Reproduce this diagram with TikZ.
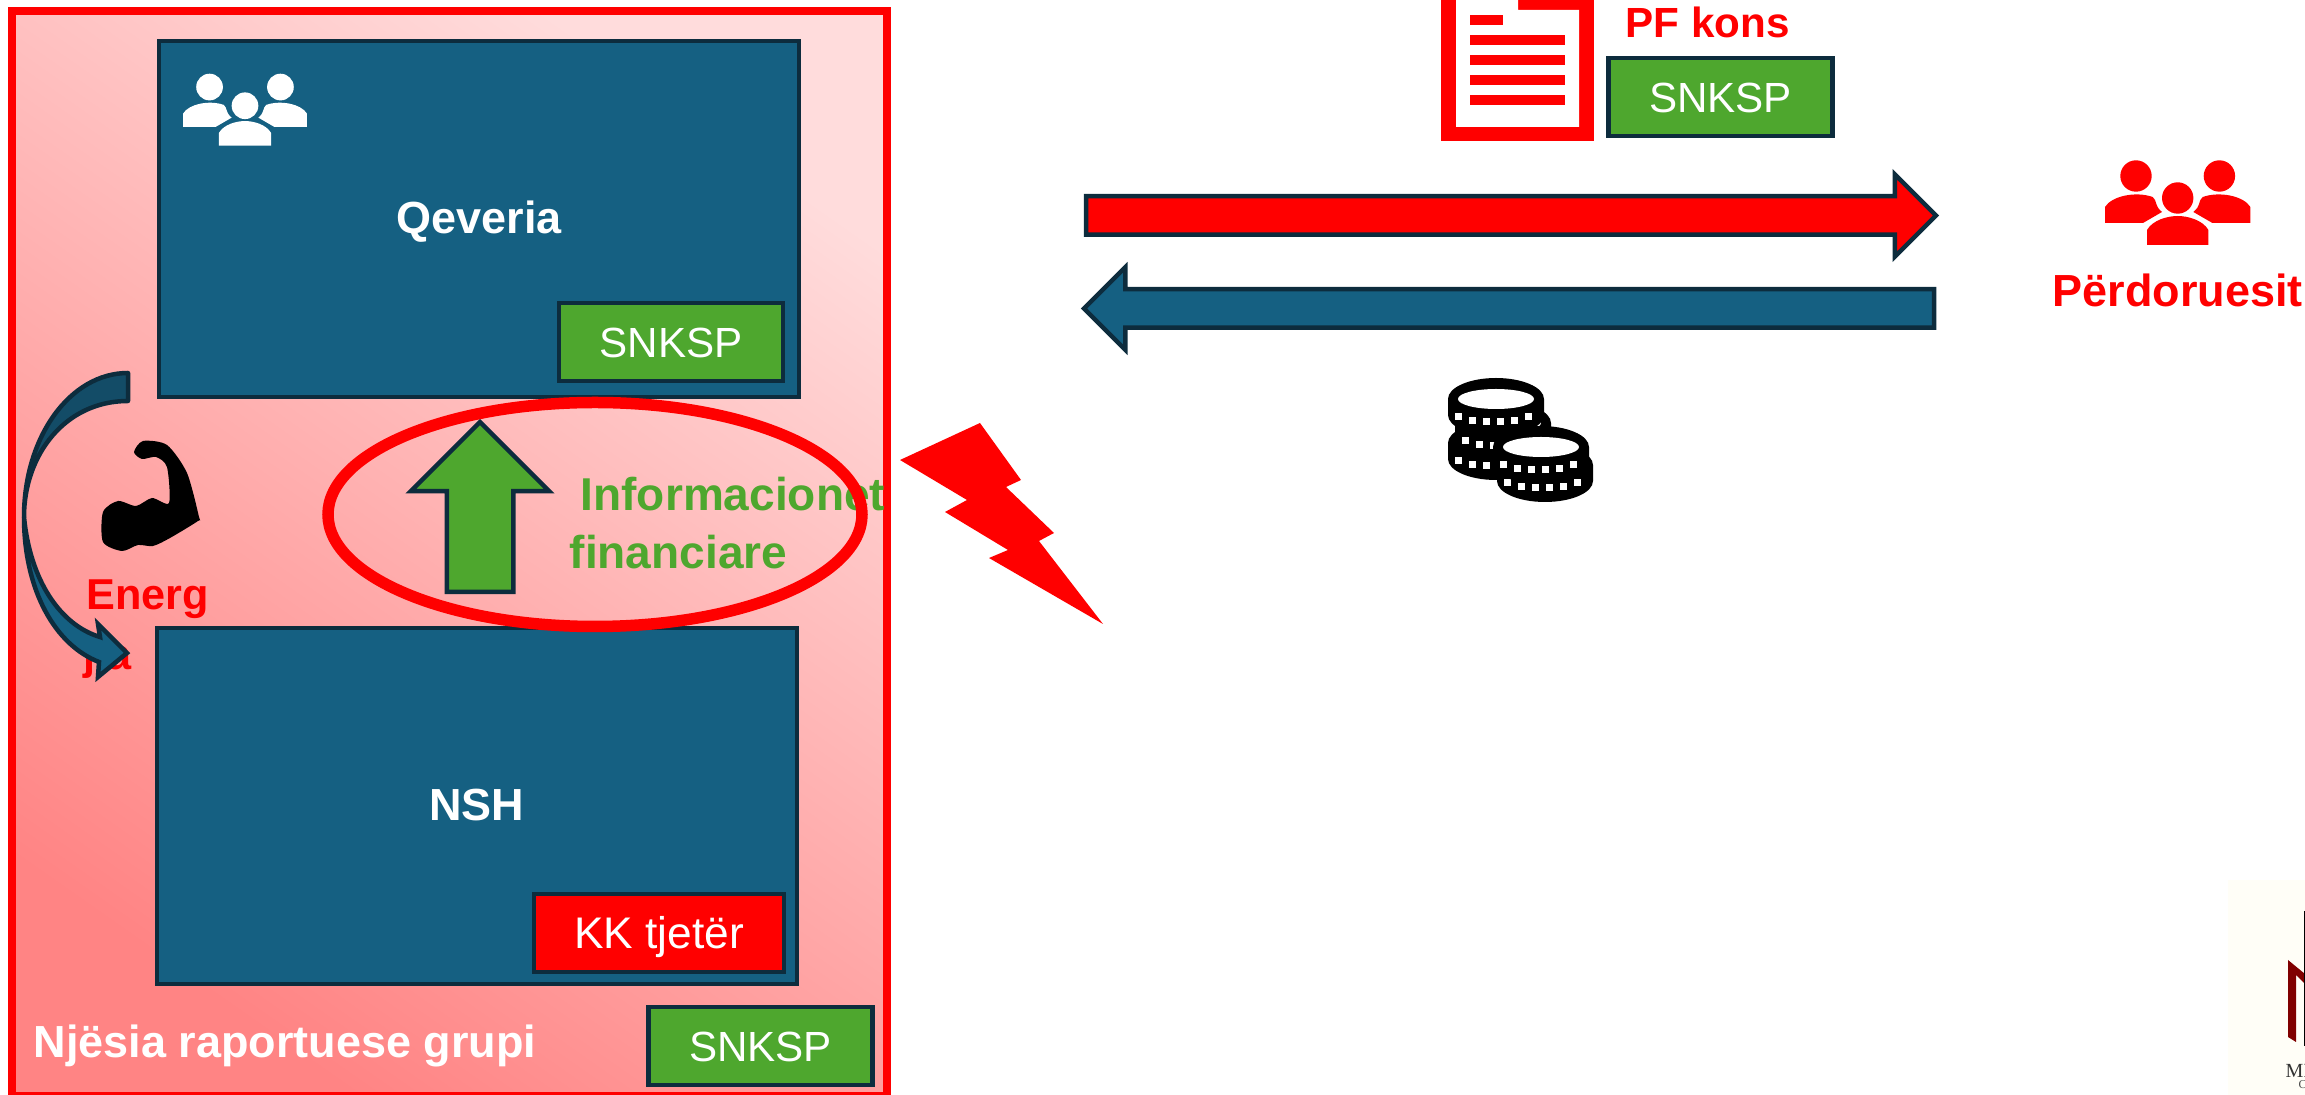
\documentclass[tikz,border=0pt]{standalone}
\usepackage{fontspec}
\setmainfont{Liberation Sans}
\newfontfamily\logofont{Liberation Serif}
\usetikzlibrary{arrows.meta}
\usetikzlibrary{positioning}
\usetikzlibrary{shapes.geometric}
\usetikzlibrary{shapes.arrows}
\definecolor{boxblue}{HTML}{156082}
\definecolor{backblue}{HTML}{134C67}
\definecolor{edgeblue}{HTML}{0D2C3D}
\definecolor{tagreen}{HTML}{4EA72E}
\definecolor{logored}{HTML}{800000}
\definecolor{logopaper}{HTML}{FFFEF7}
\definecolor{pinklight}{HTML}{FFDCDC}
\definecolor{pinkdark}{HTML}{FF8484}
\tikzset{
  people/.pic={
    \fill[pic actions] (-.417,.27) circle (.157);
    \fill[pic actions] (.417,.27) circle (.157);
    \fill[pic actions] (0,.05) circle (.157);
    \fill[pic actions] (-.727,-.20) -- (-.727,-.04) .. controls (-.66,.07) and (-.42,.12) .. (-.25,.06)
      -- (-.227,.03) .. controls (-.20,-.05) .. (-.157,-.09) -- (-.347,-.20) -- cycle;
    \fill[pic actions] (.727,-.20) -- (.727,-.04) .. controls (.66,.07) and (.42,.12) .. (.25,.06)
      -- (.227,.03) .. controls (.20,-.05) .. (.157,-.09) -- (.347,-.20) -- cycle;
    \fill[pic actions] (-.307,-.42) -- (-.307,-.27) .. controls (-.25,-.17) and (-.1,-.13) .. (0,-.13)
      .. controls (.1,-.13) and (.25,-.17) .. (.307,-.27) -- (.307,-.42) -- cycle;
  },
  coin/.pic={
    \fill[black] (-.48,0) arc (180:0:.48 and .21) -- (.48,-.16) arc (0:-180:.48 and .21) -- cycle;
    \fill[white] (0,0) ellipse (.38 and .10);
    \foreach \tickx/\ticky in {-.38/-.14,-.24/-.18,-.10/-.19,.04/-.19,.18/-.18,.32/-.14}
      \fill[white] (\tickx-.035,\ticky) rectangle (\tickx+.035,\ticky-.075);
  }
}
\begin{document}
\begin{tikzpicture}
    [unit/.style={rectangle,draw=edgeblue,fill=boxblue,line width=.45mm,
      inner sep=0pt,outer sep=0pt,text=white,font=\fontsize{12.8}{15}\selectfont\bfseries},
    tag/.style={rectangle,draw=edgeblue,fill=tagreen,line width=.45mm,
      inner sep=0pt,outer sep=0pt,minimum width=2.24cm,minimum height=.78cm,
      text=white,text height=8.6pt,text depth=0pt,font=\fontsize{12}{14}\selectfont},
    flow/.style={single arrow,draw=edgeblue,line width=.45mm,outer sep=0pt,
      single arrow tip angle=90,single arrow head indent=0pt},
    heading/.style={anchor=base west,inner sep=0pt,font=\fontsize{12.8}{15}\selectfont\bfseries}]

    \useasboundingbox (0,0) rectangle (23.05,-10.95);

    % reporting group
    \node (group) at (4.495,-5.535) [rectangle,draw=red,line width=.8mm,inner sep=0pt,
      minimum width=8.75cm,minimum height=10.85cm,
      top color=pinklight,bottom color=pinkdark,shading angle=-35] {};

    \node (qeveria) at (4.79,-2.19) [unit,minimum width=6.40cm,minimum height=3.56cm] {};
    \node (qeveria text) at (4.79,-2.34) [unit,draw=none,fill=none,anchor=base] {Qeveria};
    \node (qeveria tag) at (6.71,-3.42) [tag] {SNKSP};
    \pic (qeveria people) [fill=white,scale=.85] at (2.45,-1.10) {people};

    \node (nsh) at (4.77,-8.06) [unit,minimum width=6.40cm,minimum height=3.56cm] {};
    \node (nsh text) at (4.77,-8.21) [unit,draw=none,fill=none,anchor=base] {NSH};
    \node (nsh tag) at (6.59,-9.33) [tag,fill=red,minimum width=2.50cm,
      font=\fontsize{12.6}{14}\selectfont] {KK tjetër};

    \node (group text) at (.33,-10.58) [heading,text=white] {Njësia raportuese grupi};
    \node (group tag) at (7.605,-10.46) [tag] {SNKSP};

    % muscle and its arrow
    \fill[black] plot[smooth cycle,tension=.45] coordinates {(1.43,-4.41) (1.67,-4.45) (1.87,-4.73)
      (1.99,-5.17) (1.98,-5.21) (1.70,-5.38) (1.53,-5.46) (1.38,-5.45) (1.22,-5.51) (1.03,-5.42)
      (1.03,-5.12) (1.18,-5.01) (1.36,-5.06) (1.52,-4.98) (1.69,-5.03) (1.67,-4.67) (1.56,-4.57)
      (1.42,-4.59) (1.34,-4.52)};
    \node (energy top) at (.86,-6.10) [heading,text=red,font=\fontsize{12.3}{15}\selectfont\bfseries] {Energ};
    \node (energy bottom) at (.83,-6.70) [heading,text=red,font=\fontsize{12.3}{15}\selectfont\bfseries] {jia};

    \coordinate (bend start) at (1.28,-3.73);
    \coordinate (bend inner) at (1.28,-4.01);
    \coordinate (bend mid) at (.24,-5.17);
    \coordinate (bend neck) at (1.00,-6.37);
    \coordinate (bend outer) at (.99,-6.62);
    \filldraw[draw=edgeblue,fill=backblue,line width=.45mm,line join=round]
      (bend start) .. controls (.70,-3.73) and (.24,-4.37) .. (bend mid)
      .. controls (.24,-4.55) and (.65,-4.01) .. (bend inner) -- cycle;
    \filldraw[draw=edgeblue,fill=boxblue,line width=.45mm]
      (bend mid) .. controls (.24,-5.90) and (.55,-6.45) .. (bend outer)
      -- (.98,-6.77) -- (1.27,-6.53) -- (.98,-6.24) -- (bend neck)
      .. controls (.60,-6.25) and (.30,-5.80) .. (bend mid) -- cycle;

    % financial information
    \node (info top) at (5.80,-5.11) [heading,text=tagreen,font=\fontsize{13.1}{15}\selectfont\bfseries] {Informacionet};
    \node (info bottom) at (5.69,-5.69) [heading,text=tagreen,font=\fontsize{13.1}{15}\selectfont\bfseries] {financiare};
    \node (info arrow) at (4.80,-5.92) [flow,fill=tagreen,anchor=tail,shape border rotate=90,
      inner sep=.31cm,minimum height=1.70cm,single arrow head extend=.36cm] {};
    \node (info ring) at (5.95,-5.145) [ellipse,draw=red,line width=1.15mm,inner sep=0pt,
      minimum width=5.34cm,minimum height=2.24cm] {};

    % lightning
    \fill[red] (9.00,-4.60) -- (9.80,-4.23) -- (10.21,-4.80) -- (10.06,-4.87) -- (10.54,-5.33)
      -- (10.39,-5.41) -- (11.03,-6.24) -- (9.89,-5.58) -- (10.08,-5.50) -- (9.45,-5.12)
      -- (9.67,-5.00) -- cycle;

    % report
    \fill[red] (14.41,.1) rectangle (15.94,-1.41);
    \fill[white] (14.56,.1) -- (15.18,.1) -- (15.18,-.10) -- (15.79,-.10) -- (15.79,-1.27)
      -- (14.56,-1.27) -- cycle;
    \fill[red] (14.70,-.15) rectangle (15.03,-.25);
    \foreach \liney in {-.35,-.55,-.75,-.95}
      \fill[red] (14.70,\liney) rectangle (15.65,\liney-.10);
    \node (report text) at (16.25,-.38) [heading,text=red,font=\fontsize{12}{14}\selectfont\bfseries] {PF kons};
    \node (report tag) at (17.205,-.97) [tag] {SNKSP};

    % flows to and from users
    \node (flow report) at (10.86,-2.155) [flow,fill=red,anchor=tail,
      inner sep=.17cm,minimum height=8.50cm,single arrow head extend=.22cm] {};
    \node (flow money) at (19.34,-3.085) [flow,fill=boxblue,anchor=tail,shape border rotate=180,
      inner sep=.17cm,minimum height=8.50cm,single arrow head extend=.22cm] {};

    \pic (users people) [fill=red] at (21.777,-2.03) {people};
    \node (users text) at (20.52,-3.07) [heading,text=red] {Përdoruesit};

    % coins
    \pic (coin a) at (14.96,-4.43) {coin};
    \pic (coin b) at (15.03,-4.23) {coin};
    \pic (coin c) at (14.96,-3.99) {coin};
    \pic (coin d) at (15.45,-4.65) {coin};
    \pic (coin e) at (15.41,-4.47) {coin};

    % logo
    \fill[logopaper] (22.28,-8.80) rectangle (23.05,-10.95);
    \fill[logored] (22.88,-9.60) -- (23.05,-9.74) -- (23.05,-9.84) -- (22.96,-9.75) -- (22.96,-10.42)
      -- (22.88,-10.37) -- cycle;
    \draw[black,line width=.1mm] (23.04,-9.11) -- (23.04,-10.46);
    \node (logo name) at (22.85,-10.78) [anchor=base west,inner sep=0pt,text=black!80,
      font=\logofont\fontsize{5.7}{7}\selectfont] {MM};
    \node (logo small) at (22.98,-10.89) [anchor=base west,inner sep=0pt,text=black!70,
      font=\logofont\fontsize{3.4}{4}\selectfont] {C};

  \end{tikzpicture}
\end{document}
